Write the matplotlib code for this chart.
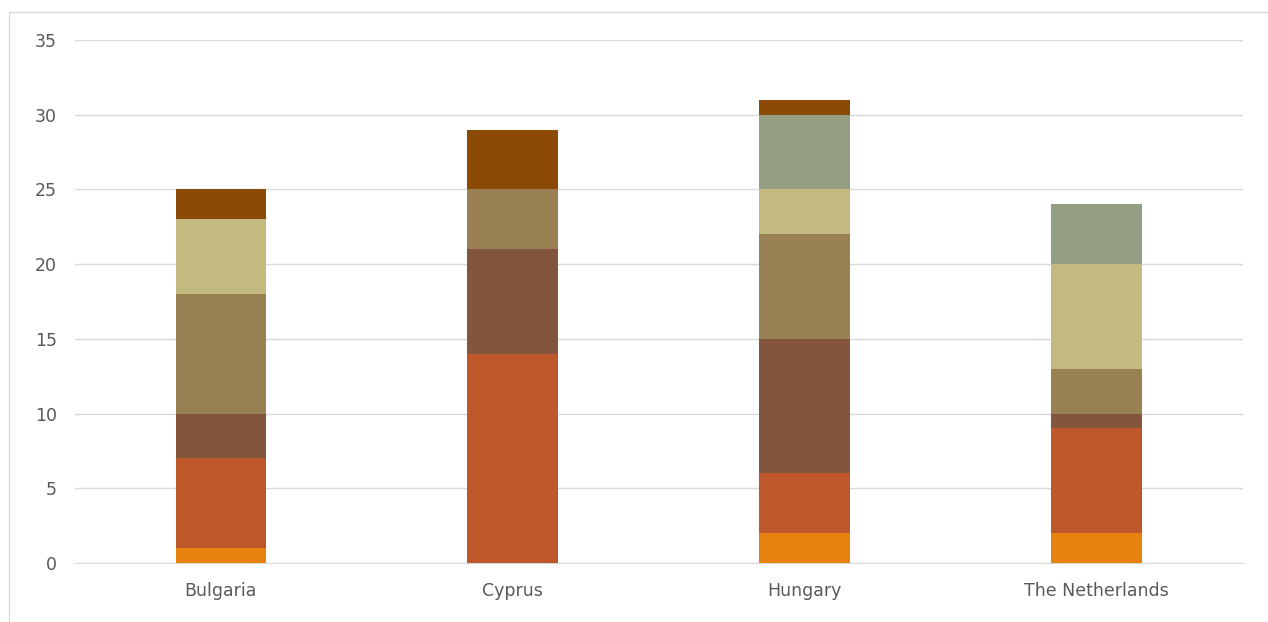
import matplotlib.pyplot as plt
import numpy as np
from matplotlib.patches import Rectangle

# Stacked segment values per country
countries = ['Bulgaria', 'Cyprus', 'Hungary', 'The Netherlands']
seg1 = [1, 0, 2, 2]
seg2 = [6, 14, 4, 7]
seg3 = [3, 7, 9, 1]
seg4 = [8, 4, 7, 3]
seg5 = [5, 0, 3, 7]
seg6 = [0, 0, 5, 4]
seg7 = [2, 4, 1, 0]

segments = [seg1, seg2, seg3, seg4, seg5, seg6, seg7]
colors = ['#E8820F', '#BE582B', '#83553D', '#9A8153', '#C3BA7F', '#939E83', '#8B4A06']

fig = plt.figure(figsize=(12.68, 6.22), dpi=100)
ax = fig.add_axes([0.059, 0.0949, 0.921, 0.8408])

x = np.arange(len(countries))
bottom = np.zeros(len(countries))
for vals, col in zip(segments, colors):
    vals = np.array(vals, dtype=float)
    ax.bar(x, vals, 0.31, bottom=bottom, color=col, edgecolor='none', zorder=3)
    bottom += vals

ax.set_xlim(-0.5, 3.5)
ax.set_ylim(0, 35)
ax.set_yticks(np.arange(0, 36, 5))
ax.set_xticks(x)
ax.set_xticklabels(countries)
ax.grid(True, axis='y', color='#D9D9D9', linewidth=1, zorder=0)
for s in ['top', 'right', 'left']:
    ax.spines[s].set_visible(False)
ax.spines['bottom'].set_color('#D9D9D9')
ax.tick_params(axis='both', length=0, labelsize=12.5, labelcolor='#595959')
ax.tick_params(axis='x', pad=14)
ax.tick_params(axis='y', pad=13)

# chart area border
fig.patches.append(Rectangle((9 / 1268, -0.1), 1.2, 1 - 12 / 622 + 0.1,
                             transform=fig.transFigure, fill=False,
                             edgecolor='#D9D9D9', linewidth=1))

fig.savefig('out.png', dpi=100)
